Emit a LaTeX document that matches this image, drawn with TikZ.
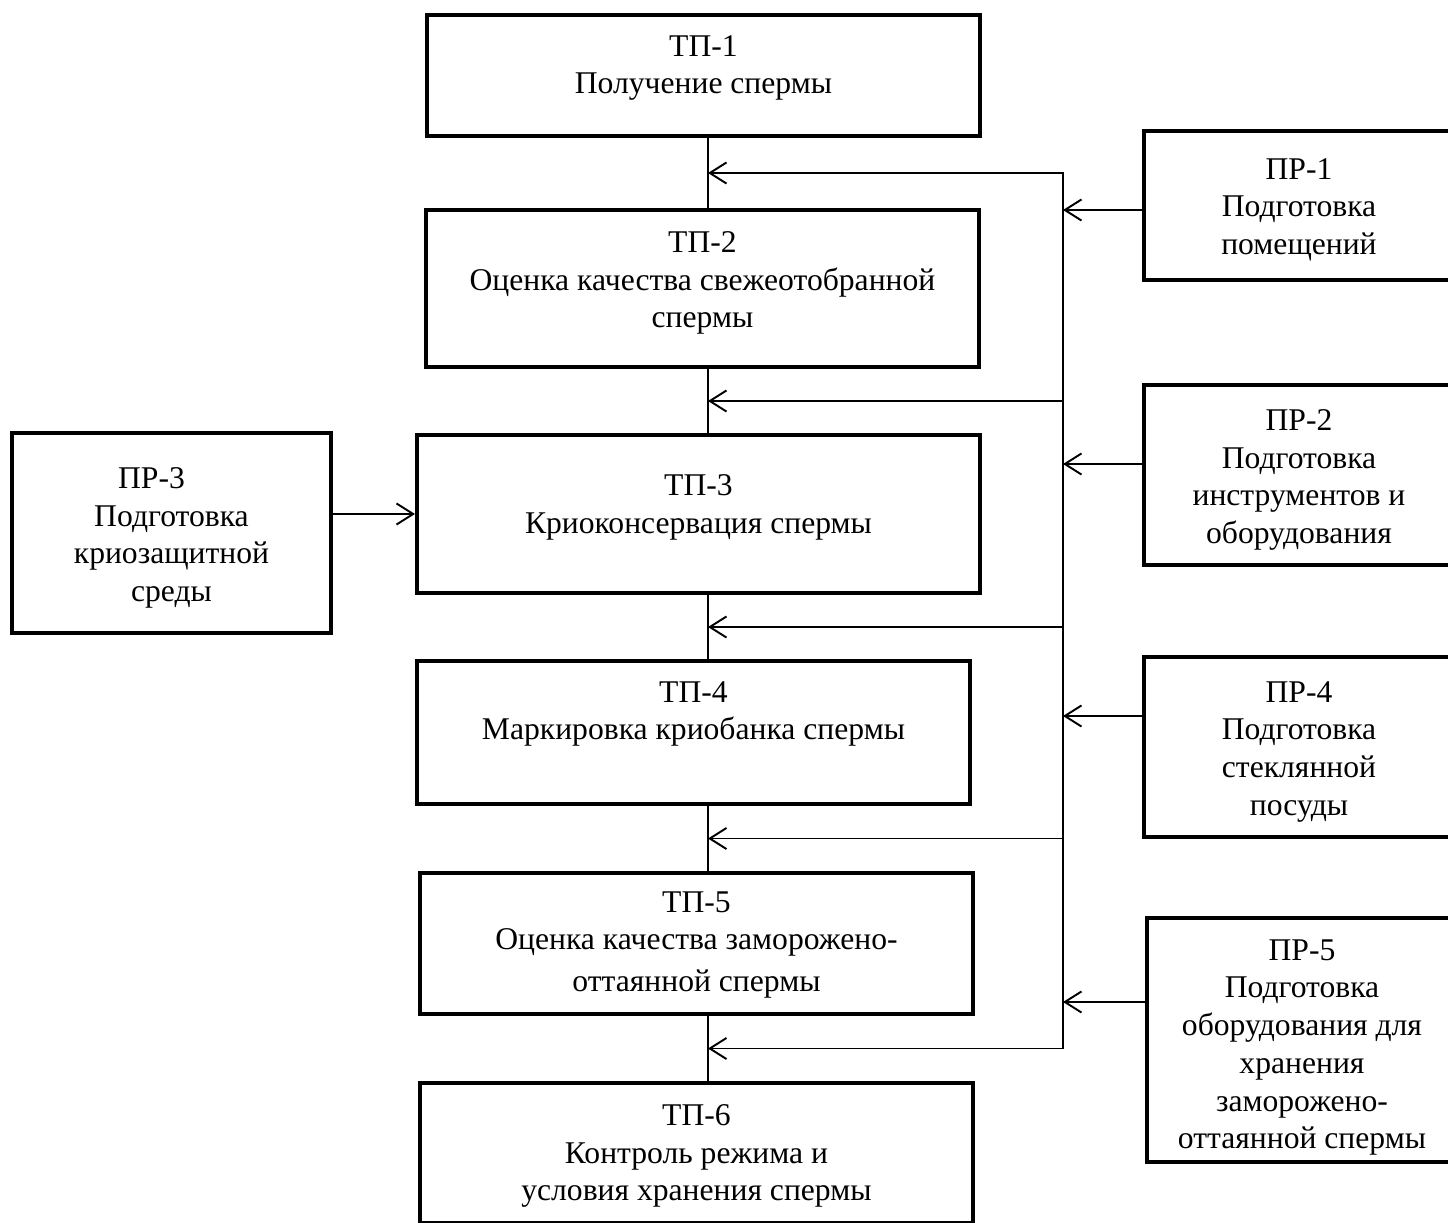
\documentclass[tikz,border=0pt]{standalone}
\usepackage{fontspec}
\setmainfont{Liberation Serif}
\usetikzlibrary{arrows.meta,positioning,calc}

\tikzset{
  box/.style={draw,line width=2.3pt,rectangle,anchor=north west,inner sep=0pt},
  boxtext/.style={align=center,inner sep=0pt,font=\fontsize{18}{21.5}\selectfont},
  link/.style={line width=1.1pt},
  feed/.style={line width=1.1pt,-{Straight Barb[length=9.5pt,width=12pt]}}
}

\begin{document}
\begin{tikzpicture}[x=0.02cm,y=-0.02cm]
  \useasboundingbox (0,0) rectangle (1448,1223);
  \clip (0,0) rectangle (1448,1223);
  % technological processes
  \node[box,minimum width=11.06cm,minimum height=2.42cm] (tp1) at (425,13) {};
  \node[box,minimum width=11.06cm,minimum height=3.14cm] (tp2) at (424,208) {};
  \node[box,minimum width=11.26cm,minimum height=3.16cm] (tp3) at (415,433) {};
  \node[box,minimum width=11.06cm,minimum height=2.86cm] (tp4) at (415,659) {};
  \node[box,minimum width=11.06cm,minimum height=2.82cm] (tp5) at (418,871) {};
  \node[box,minimum width=11.06cm,minimum height=2.80cm] (tp6) at (418,1081) {};
  \node[boxtext,below=0.44cm of tp1.north] (tp1t) {ТП-1\\Получение спермы};
  \node[boxtext,below=0.46cm of tp2.north] (tp2t) {ТП-2\\Оценка качества свежеотобранной\\спермы};
  \node[boxtext,below=0.82cm of tp3.north] (tp3t) {ТП-3\\Криоконсервация спермы};
  \node[boxtext,below=0.44cm of tp4.north] (tp4t) {ТП-4\\Маркировка криобанка спермы};
  \node[boxtext,below=0.40cm of tp5.north] (tp5t) {ТП-5\\Оценка качества заморожено-\\[2pt]оттаянной спермы};
  \node[boxtext,below=0.46cm of tp6.north] (tp6t) {ТП-6\\Контроль режима и\\условия хранения спермы};
  % preparatory works
  \node[box,minimum width=6.2cm,minimum height=2.98cm] (pr1) at (1142,129) {};
  \node[box,minimum width=6.2cm,minimum height=3.6cm] (pr2) at (1142,383) {};
  \node[box,minimum width=6.38cm,minimum height=4cm] (pr3) at (10,431) {};
  \node[box,minimum width=6.2cm,minimum height=3.6cm] (pr4) at (1142,655) {};
  \node[box,minimum width=6.2cm,minimum height=4.88cm] (pr5) at (1145,916) {};
  \node[boxtext,below=0.58cm of pr1.north] (pr1t) {ПР-1\\Подготовка\\помещений};
  \node[boxtext,below=0.52cm of pr2.north] (pr2t) {ПР-2\\Подготовка\\инструментов и\\оборудования};
  \node[boxtext,below=0.72cm of pr3.north] (pr3t) {ПР-3\hspace*{0.8cm}\\Подготовка\\криозащитной\\среды};
  \node[boxtext,below=0.52cm of pr4.north] (pr4t) {ПР-4\\Подготовка\\стеклянной\\посуды};
  \node[boxtext,below=0.46cm of pr5.north] (pr5t) {ПР-5\\Подготовка\\оборудования для\\хранения\\заморожено-\\оттаянной спермы};
  % spine and bus
  \coordinate (spine) at (708,0);
  \coordinate (bus) at (1063,0);
  \coordinate (g1) at ($(tp1.south)!0.5!(tp2.north)$);
  \coordinate (g2) at ($(tp2.south)!0.5!(tp3.north)$);
  \coordinate (g3) at ($(tp3.south)!0.5!(tp4.north)$);
  \coordinate (g4) at ($(tp4.south)!0.5!(tp5.north)$);
  \coordinate (g5) at ($(tp5.south)!0.5!(tp6.north)$);
  \draw[link] (tp1.south -| spine) -- (tp2.north -| spine);
  \draw[link] (tp2.south -| spine) -- (tp3.north -| spine);
  \draw[link] (tp3.south -| spine) -- (tp4.north -| spine);
  \draw[link] (tp4.south -| spine) -- (tp5.north -| spine);
  \draw[link] (tp5.south -| spine) -- (tp6.north -| spine);
  \draw[feed] (bus |- g2) -- (bus |- g1) -- (spine |- g1);
  \draw[feed] (bus |- g2) -- (spine |- g2);
  \draw[feed] (bus |- g3) -- (spine |- g3);
  \draw[feed] (bus |- g4) -- (spine |- g4);
  \draw[feed] (bus |- g2) -- (bus |- g5) -- (spine |- g5);
  % inputs to the bus
  \draw[feed] (pr1.west |- 0,210) -- (bus |- 0,210);
  \draw[feed] (pr2.west |- 0,464) -- (bus |- 0,464);
  \draw[feed] (pr4.west |- 0,716) -- (bus |- 0,716);
  \draw[feed] (pr5.west |- 0,1002) -- (bus |- 0,1002);
  \draw[feed] (pr3.east |- tp3.west) -- (tp3.west);
\end{tikzpicture}
\end{document}
